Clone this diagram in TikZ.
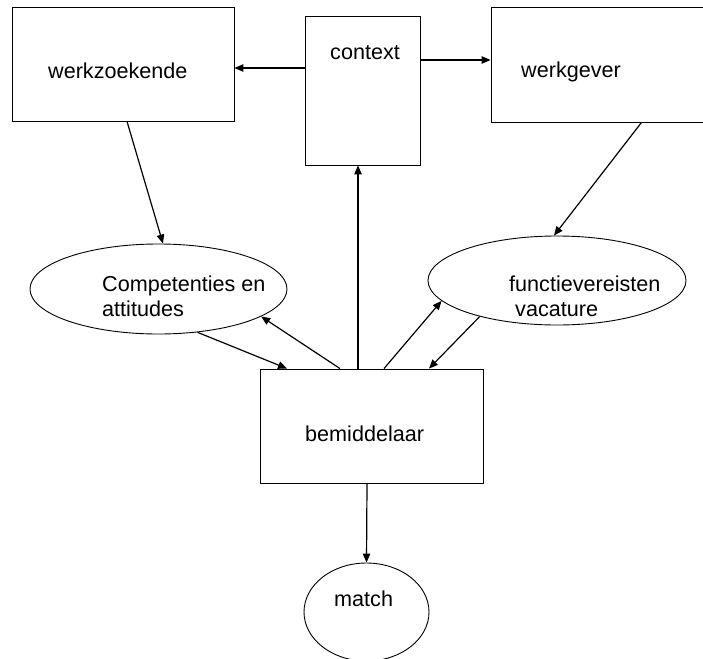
\documentclass[tikz,border=0pt]{standalone}
\usepackage{fontspec}
\setmainfont{Liberation Sans}
\usetikzlibrary{arrows.meta,shapes.geometric}
\begin{document}
\begin{tikzpicture}[x=1pt,y=-1pt,
  box/.style={draw=black,line width=0.9pt,rectangle,inner sep=0pt},
  ell/.style={draw=black,line width=0.9pt,ellipse,inner sep=0pt},
  txt/.style={inner sep=0pt,anchor=base west,font=\fontsize{21.6pt}{25pt}\selectfont},
  arr/.style={line width=1.2pt,-{Triangle[length=9pt,width=7.5pt]}},
  ln/.style={line width=1.1pt}]
\useasboundingbox (0,0) rectangle (703,658);
% shapes
\node[box,minimum width=222pt,minimum height=114pt] (wz) at (123,64) {};
\node[box,minimum width=115pt,minimum height=149pt] (ctx) at (362.5,90.5) {};
\node[box,minimum width=230pt,minimum height=115pt] (wg) at (606,64.5) {};
\node[ell,minimum width=257pt,minimum height=90pt] (comp) at (158.5,289) {};
\node[ell,minimum width=258pt,minimum height=89pt] (fv) at (557,280.5) {};
\node[box,minimum width=223pt,minimum height=114pt] (bem) at (371.5,426) {};
\node[ell,minimum width=125pt,minimum height=98pt] (match) at (366.5,612) {};
% texts
\node[txt] (twz) at (48,79) {werkzoekende};
\node[txt] (tctx) at (330,60) {context};
\node[txt] (twg) at (521,78) {werkgever};
\node[txt] (tc1) at (102,291) {Competenties en};
\node[txt] (tc2) at (102,316) {attitudes};
\node[txt] (tf1) at (509,291) {functievereisten};
\node[txt] (tf2) at (515,316) {vacature};
\node[txt] (tbem) at (305,441) {bemiddelaar};
\node[txt] (tmatch) at (334,606) {match};
% connectors
\draw[arr] ([yshift=22.5pt]ctx.west) coordinate (a1) -- (a1 -| wz.east);
\draw[arr] ([yshift=30.5pt]ctx.east) coordinate (a2) -- (a2 -| wg.west);
\draw[arr] ([xshift=4pt]wz.south) -- ([xshift=4.5pt]comp.north);
\draw[arr] ([xshift=35.5pt]wg.south) -- ([xshift=-3pt]fv.north);
\draw[arr] ([xshift=-13.5pt]bem.north) coordinate (a5) -- (a5 |- ctx.south);
\draw[arr] (comp.-48) -- ([xshift=-84.5pt]bem.north);
\draw[arr] ([xshift=-31.5pt]bem.north) -- (comp.-15);
\draw[arr] ([xshift=12.5pt]bem.north) -- (fv.-170);
\draw[arr] (fv.-155) -- ([xshift=57.5pt]bem.north);
\draw[arr] ([xshift=-4.5pt]bem.south) -- (match.north);
\end{tikzpicture}
\end{document}
